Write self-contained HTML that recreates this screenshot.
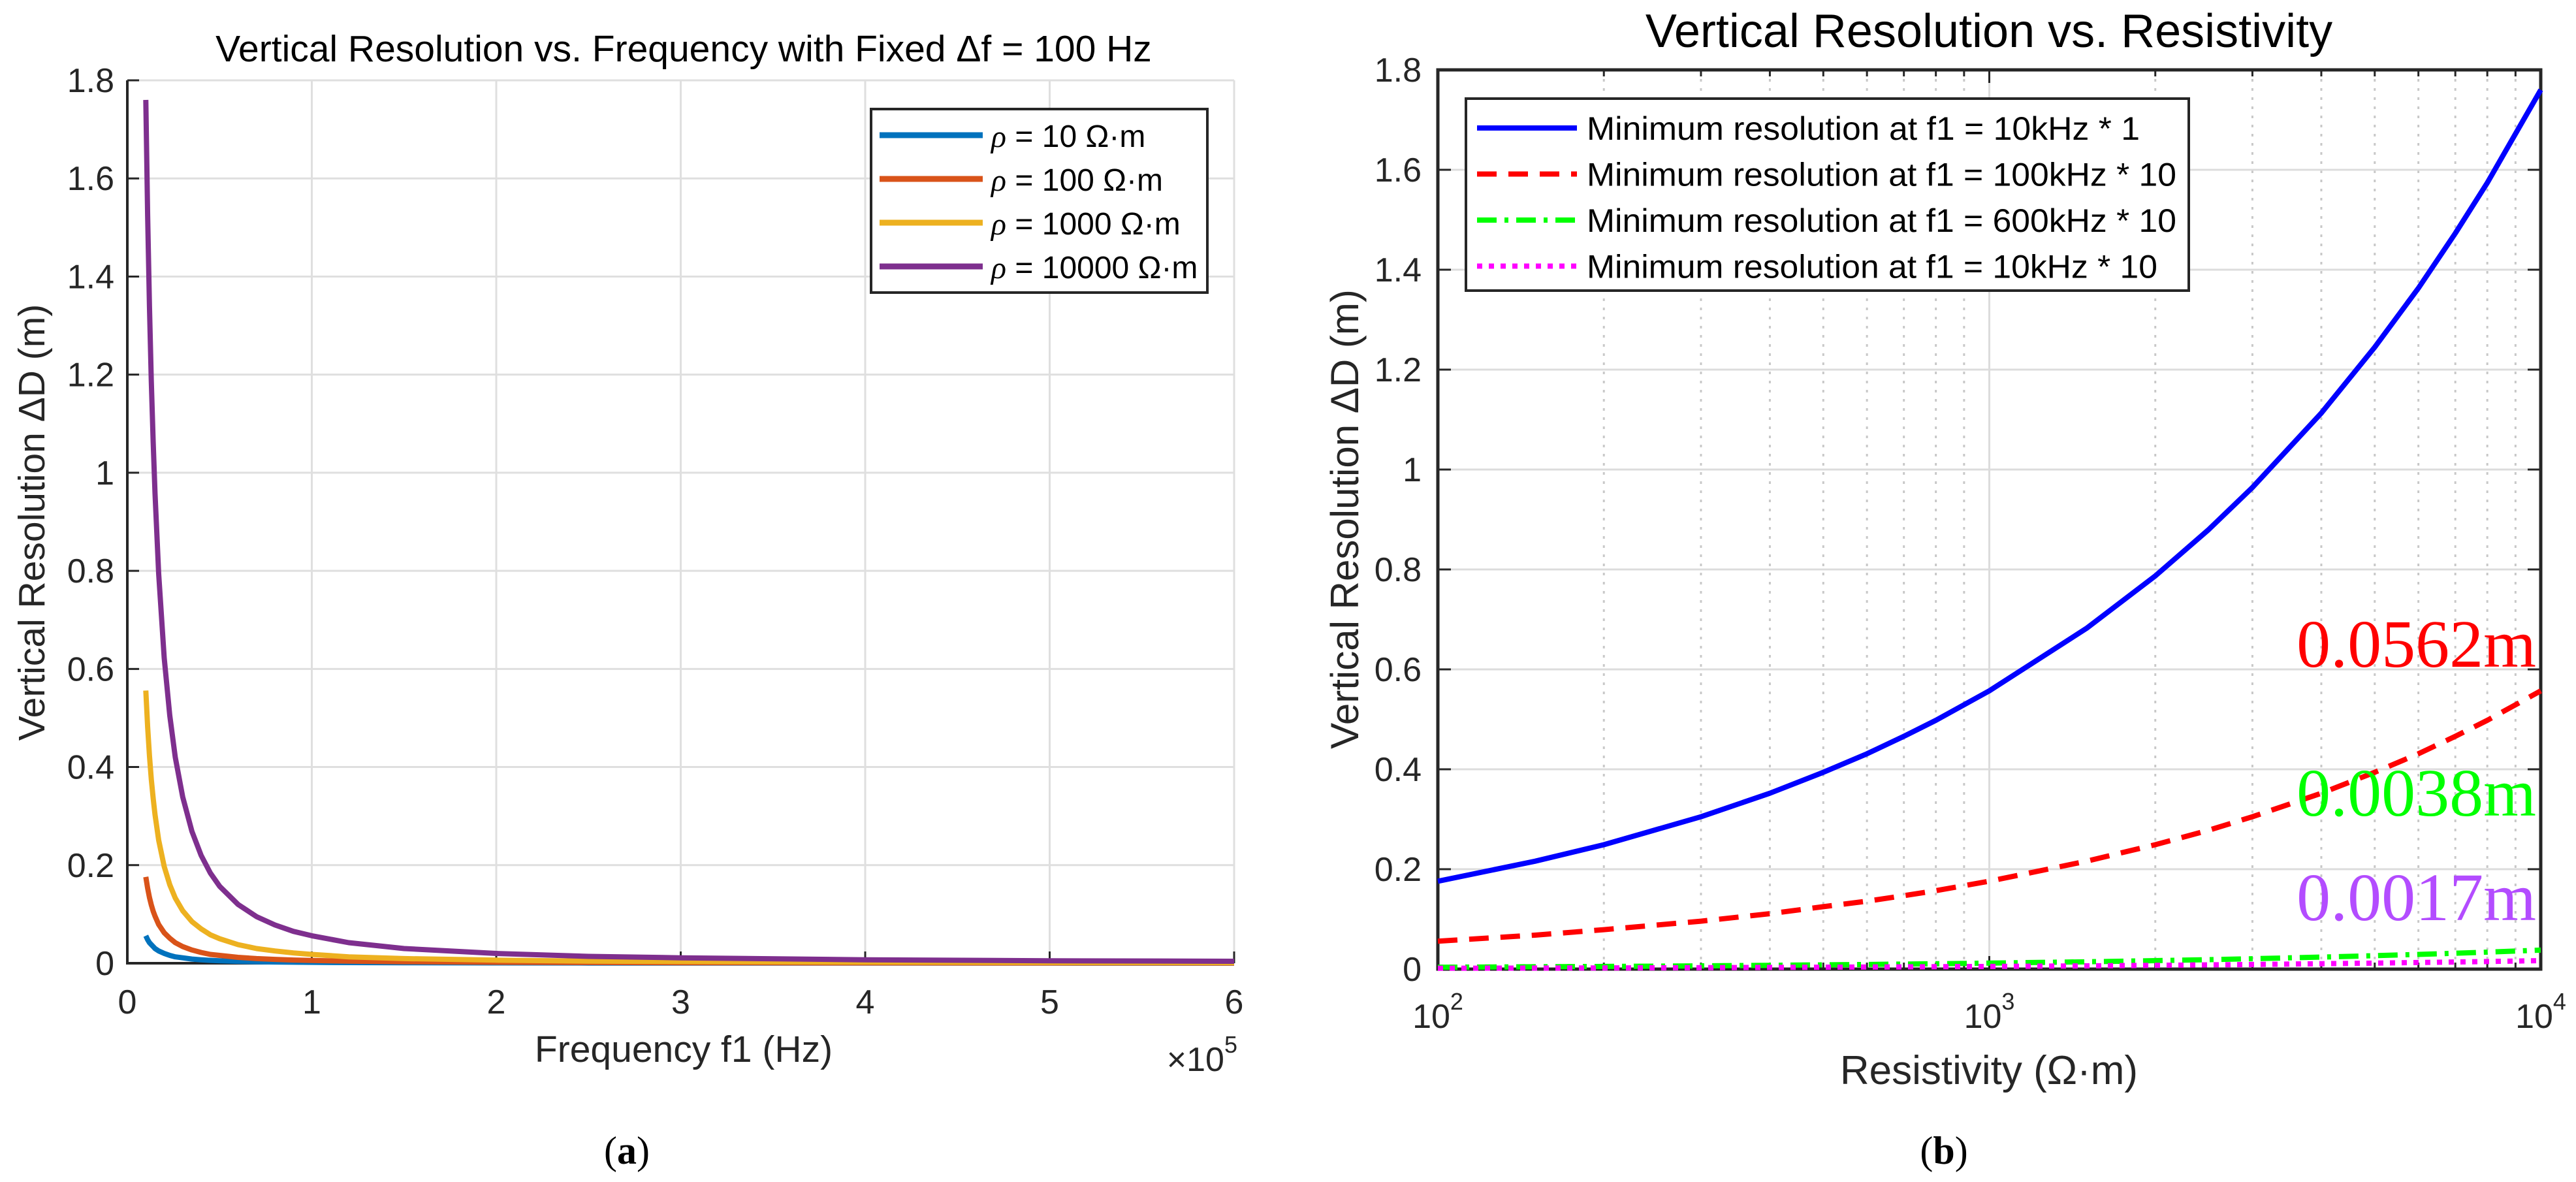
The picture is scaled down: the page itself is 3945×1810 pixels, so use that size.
<!DOCTYPE html>
<html><head><meta charset="utf-8"><style>
html,body{margin:0;padding:0;background:#fff;}
svg{display:block;font-family:"Liberation Sans",sans-serif;}
</style></head><body>
<svg id="fig" width="3945" height="1810" viewBox="0 0 3945 1810" xmlns="http://www.w3.org/2000/svg">
<g id="plotA"></g>
<g id="plotB"></g>
</svg>
<script>
// ---- Chart (a) data ----
const freqA = [10000, 11000, 12000, 13000, 14000, 15000, 17000, 20000, 23000, 26000, 30000, 35000, 40000, 45000, 50000, 60000, 70000, 80000, 90000, 100000, 120000, 150000, 200000, 250000, 300000, 400000, 500000, 600000];
const rho10 = [0.056, 0.048, 0.042, 0.038, 0.034, 0.030, 0.025, 0.020, 0.016, 0.013, 0.011, 0.0085, 0.007, 0.0058, 0.005, 0.0038, 0.003, 0.0025, 0.0021, 0.0018, 0.0013, 0.001, 0.0006, 0.0004, 0.0003, 0.0002, 0.0002, 0.0001];
const rho100 = [0.176, 0.153, 0.134, 0.119, 0.106, 0.096, 0.079, 0.062, 0.051, 0.042, 0.034, 0.027, 0.022, 0.018, 0.016, 0.012, 0.0095, 0.0078, 0.0065, 0.0056, 0.0042, 0.003, 0.002, 0.0014, 0.0011, 0.0007, 0.0005, 0.0004];
const rho1000 = [0.556, 0.482, 0.423, 0.375, 0.336, 0.303, 0.251, 0.197, 0.160, 0.133, 0.107, 0.085, 0.070, 0.058, 0.050, 0.038, 0.030, 0.025, 0.021, 0.018, 0.013, 0.0095, 0.0063, 0.0044, 0.0035, 0.0022, 0.0016, 0.0013];
const rho10000 = [1.76, 1.525, 1.339, 1.187, 1.062, 0.958, 0.794, 0.622, 0.505, 0.420, 0.339, 0.269, 0.220, 0.184, 0.157, 0.120, 0.095, 0.078, 0.065, 0.056, 0.042, 0.030, 0.020, 0.014, 0.011, 0.007, 0.005, 0.004];
const xTicksA = [0, 1, 2, 3, 4, 5, 6];
const yTicks = [0, 0.2, 0.4, 0.6, 0.8, 1, 1.2, 1.4, 1.6, 1.8];
const yTickLabels = ["0", "0.2", "0.4", "0.6", "0.8", "1", "1.2", "1.4", "1.6", "1.8"];
const legendA = ["10", "100", "1000", "10000"];
// ---- Chart (b) data ----
const rhoB = [100, 150, 200, 300, 400, 500, 600, 700, 800, 1000, 1500, 2000, 2500, 3000, 4000, 5000, 6000, 7000, 8000, 10000];
const blueB = [0.176, 0.216, 0.249, 0.305, 0.352, 0.394, 0.431, 0.466, 0.498, 0.557, 0.682, 0.787, 0.880, 0.964, 1.113, 1.245, 1.363, 1.473, 1.574, 1.76];
const redB = [0.056, 0.068, 0.079, 0.096, 0.111, 0.125, 0.136, 0.147, 0.157, 0.176, 0.216, 0.249, 0.278, 0.305, 0.352, 0.394, 0.431, 0.466, 0.498, 0.557];
const greenB = [0.0038, 0.0047, 0.0054, 0.0066, 0.0076, 0.0085, 0.0093, 0.0101, 0.0107, 0.012, 0.0147, 0.017, 0.019, 0.0208, 0.024, 0.0269, 0.0294, 0.0318, 0.034, 0.038];
const magentaB = [0.0017, 0.0021, 0.0024, 0.0029, 0.0034, 0.0038, 0.0042, 0.0045, 0.0048, 0.0054, 0.0066, 0.0076, 0.0085, 0.0093, 0.0108, 0.012, 0.0132, 0.0142, 0.0152, 0.017];
const xTicksB = [2, 3, 4];
const legendB = ["Minimum resolution at f1 = 10kHz * 1", "Minimum resolution at f1 = 100kHz * 10", "Minimum resolution at f1 = 600kHz * 10", "Minimum resolution at f1 = 10kHz * 10"];
const annots = ["0.0562m", "0.0038m", "0.0017m"];

const NS = "http://www.w3.org/2000/svg";
function mk(parent, tag, attrs, text) {
  const e = document.createElementNS(NS, tag);
  for (const k in attrs) e.setAttribute(k, attrs[k]);
  if (text !== undefined) e.textContent = text;
  parent.appendChild(e);
  return e;
}

// ===== Chart A =====
const A = document.getElementById('plotA');
const aL = 195, aR = 1890, aT = 123, aB = 1475;
const xA = v => aL + (v / 600000) * (aR - aL);
const yA = v => aB - (v / 1.8) * (aB - aT);
yTicks.forEach((t, i) => {
  const y = yA(t);
  const g = mk(A, 'line', {x1: aL, x2: aR, y1: y, y2: y, stroke: '#dfdfdf', 'stroke-width': 3});
  
  
  const tk = mk(A, 'line', {x1: aL, x2: aL + 18, y1: y, y2: y, stroke: '#262626', 'stroke-width': 3});
  
  
  const lb = mk(A, 'text', {x: 175, y: y + 18, 'text-anchor': 'end', 'font-size': 52, fill: '#262626'}, yTickLabels[i]);
  
  
});
xTicksA.forEach(t => {
  const x = xA(t * 100000);
  const g = mk(A, 'line', {x1: x, x2: x, y1: aT, y2: aB, stroke: '#dfdfdf', 'stroke-width': 3});
  
  
  const tk = mk(A, 'line', {x1: x, x2: x, y1: aB, y2: aB - 18, stroke: '#262626', 'stroke-width': 3});
  
  
  const lb = mk(A, 'text', {x: x, y: 1552, 'text-anchor': 'middle', 'font-size': 52, fill: '#262626'}, String(t));
  
  
});
const axA = mk(A, 'path', {d: `M${aL},${aT}V${aB}H${aR}`, fill: 'none', stroke: '#262626', 'stroke-width': 4});


const colorsA = ['#0072bd', '#d95319', '#edb120', '#7e2f8e'];
[rho10, rho100, rho1000, rho10000].forEach((s, si) => {
  const pts = s.map((v, i) => `${xA(freqA[i]).toFixed(1)},${yA(v).toFixed(1)}`).join(' ');
  const pl = mk(A, 'polyline', {points: pts, fill: 'none', stroke: colorsA[si], 'stroke-width': 8, 'stroke-linejoin': 'round'});
  
  
});
const legA = mk(A, 'g', {});


mk(legA, 'rect', {x: 1334, y: 167, width: 515, height: 281, fill: '#fff', stroke: '#262626', 'stroke-width': 4});
legendA.forEach((r, i) => {
  const y = 207 + i * 67;
  const ln = mk(legA, 'line', {x1: 1347, x2: 1505, y1: y, y2: y, stroke: colorsA[i], 'stroke-width': 9});
  
  
  const t = mk(legA, 'text', {x: 1518, y: y + 18, 'font-size': 48, fill: '#000'});
  
  
  mk(t, 'tspan', {'font-style': 'italic', 'font-family': '"Liberation Serif",serif'}, 'ρ');
  mk(t, 'tspan', {}, ' = ' + r + ' Ω·m');
});
let e;
e = mk(A, 'text', {x: 1047, y: 94, 'text-anchor': 'middle', 'font-size': 57, fill: '#000'}, 'Vertical Resolution vs. Frequency with Fixed  Δf = 100 Hz');
 
e = mk(A, 'text', {x: 1047, y: 1626, 'text-anchor': 'middle', 'font-size': 57, fill: '#262626'}, 'Frequency f1 (Hz)');
 
e = mk(A, 'text', {x: 1895, y: 1640, 'text-anchor': 'end', 'font-size': 52, fill: '#262626'});
 
mk(e, 'tspan', {}, '×10');
mk(e, 'tspan', {dy: -28, 'font-size': 36}, '5');
e = mk(A, 'text', {x: 0, y: 0, 'text-anchor': 'middle', 'font-size': 57, fill: '#262626', transform: 'translate(68,800) rotate(-90)'}, 'Vertical Resolution  ΔD (m)');
 
e = mk(A, 'text', {x: 960, y: 1782, 'text-anchor': 'middle', 'font-size': 60, fill: '#000', 'font-family': '"Liberation Serif",serif'});
 
mk(e, 'tspan', {}, '(');
mk(e, 'tspan', {'font-weight': 'bold'}, 'a');
mk(e, 'tspan', {}, ')');

// ===== Chart B =====
const B = document.getElementById('plotB');
const bL = 2202, bR = 3891, bT = 107, bB = 1484;
const xB = v => bL + (Math.log10(v) - 2) / 2 * (bR - bL);
const yB = v => bB - (v / 1.8) * (bB - bT);
for (let d = 2; d < 4; d++) {
  for (let m = 2; m <= 9; m++) {
    const x = xB(m * Math.pow(10, d));
    const g = mk(B, 'line', {x1: x, x2: x, y1: bT, y2: bB, stroke: '#c8c8c8', 'stroke-width': 3, 'stroke-dasharray': '4 10'});
    
    
    const t1 = mk(B, 'line', {x1: x, x2: x, y1: bB, y2: bB - 10, stroke: '#262626', 'stroke-width': 3});
    
    
    const t2 = mk(B, 'line', {x1: x, x2: x, y1: bT, y2: bT + 10, stroke: '#262626', 'stroke-width': 3});
    
    
  }
}
yTicks.forEach((t, i) => {
  const y = yB(t);
  const g = mk(B, 'line', {x1: bL, x2: bR, y1: y, y2: y, stroke: '#dcdcdc', 'stroke-width': 3});
  
  
  const tk = mk(B, 'path', {d: `M${bL},${y}h20M${bR},${y}h-20`, stroke: '#262626', 'stroke-width': 3});
  
  
  const lb = mk(B, 'text', {x: 2177, y: y + 18, 'text-anchor': 'end', 'font-size': 52, fill: '#262626'}, yTickLabels[i]);
  
  
});
xTicksB.forEach(p => {
  const x = xB(Math.pow(10, p));
  const g = mk(B, 'line', {x1: x, x2: x, y1: bT, y2: bB, stroke: '#dcdcdc', 'stroke-width': 3});
  
  
  const tk = mk(B, 'path', {d: `M${x},${bB}v-20M${x},${bT}v20`, stroke: '#262626', 'stroke-width': 3});
  
  
  const lb = mk(B, 'text', {x: x, y: 1574, 'text-anchor': 'middle', 'font-size': 52, fill: '#262626'});
  
  
  mk(lb, 'tspan', {}, '10');
  mk(lb, 'tspan', {dy: -28, 'font-size': 36}, String(p));
});
const axB = mk(B, 'rect', {x: bL, y: bT, width: bR - bL, height: bB - bT, fill: 'none', stroke: '#262626', 'stroke-width': 5});


const colorsB = ['#0000ff', '#ff0000', '#00ff00', '#ff00ff'];
const dashB = ['', '30 18', '30 12 6 12', '8 10'];
const namesB = ['series-10khz-x1', 'series-100khz-x10', 'series-600khz-x10', 'series-10khz-x10'];
[blueB, redB, greenB, magentaB].forEach((s, si) => {
  const pts = s.map((v, i) => `${xB(rhoB[i]).toFixed(1)},${yB(v).toFixed(1)}`).join(' ');
  const a = {points: pts, fill: 'none', stroke: colorsB[si], 'stroke-width': 8, 'stroke-linejoin': 'round'};
  if (dashB[si]) a['stroke-dasharray'] = dashB[si];
  const pl = mk(B, 'polyline', a);
  
  
});
const legB = mk(B, 'g', {});


mk(legB, 'rect', {x: 2245, y: 151, width: 1107, height: 294, fill: '#fff', stroke: '#262626', 'stroke-width': 4});
legendB.forEach((txt, i) => {
  const y = 196 + i * 70.5;
  const a = {x1: 2262, x2: 2415, y1: y, y2: y, stroke: colorsB[i], 'stroke-width': 8};
  if (dashB[i]) a['stroke-dasharray'] = dashB[i];
  const ln = mk(legB, 'line', a);
  
  
  const t = mk(legB, 'text', {x: 2430, y: y + 18, 'font-size': 50, fill: '#000', textLength: i === 0 ? 847 : (i === 3 ? 874 : 903), lengthAdjust: 'spacingAndGlyphs'}, txt);
  
  
});
const annColors = ['#ff0000', '#00ff00', '#b34cff'];
const annY = [1021, 1249, 1409];
annots.forEach((s, i) => {
  const t = mk(B, 'text', {x: 3884, y: annY[i], 'text-anchor': 'end', 'font-size': 104, fill: annColors[i], 'font-family': '"Liberation Serif",serif'}, s);
  
  
});
e = mk(B, 'text', {x: 3046, y: 72, 'text-anchor': 'middle', 'font-size': 72, fill: '#000'}, 'Vertical Resolution vs. Resistivity');
 
e = mk(B, 'text', {x: 3046, y: 1660, 'text-anchor': 'middle', 'font-size': 62, fill: '#262626'}, 'Resistivity (Ω·m)');
 
e = mk(B, 'text', {x: 0, y: 0, 'text-anchor': 'middle', 'font-size': 60, fill: '#262626', transform: 'translate(2080,795) rotate(-90)'}, 'Vertical Resolution  ΔD (m)');
 
e = mk(B, 'text', {x: 2977, y: 1782, 'text-anchor': 'middle', 'font-size': 60, fill: '#000', 'font-family': '"Liberation Serif",serif'});
 
mk(e, 'tspan', {}, '(');
mk(e, 'tspan', {'font-weight': 'bold'}, 'b');
mk(e, 'tspan', {}, ')');
</script>
</body></html>
